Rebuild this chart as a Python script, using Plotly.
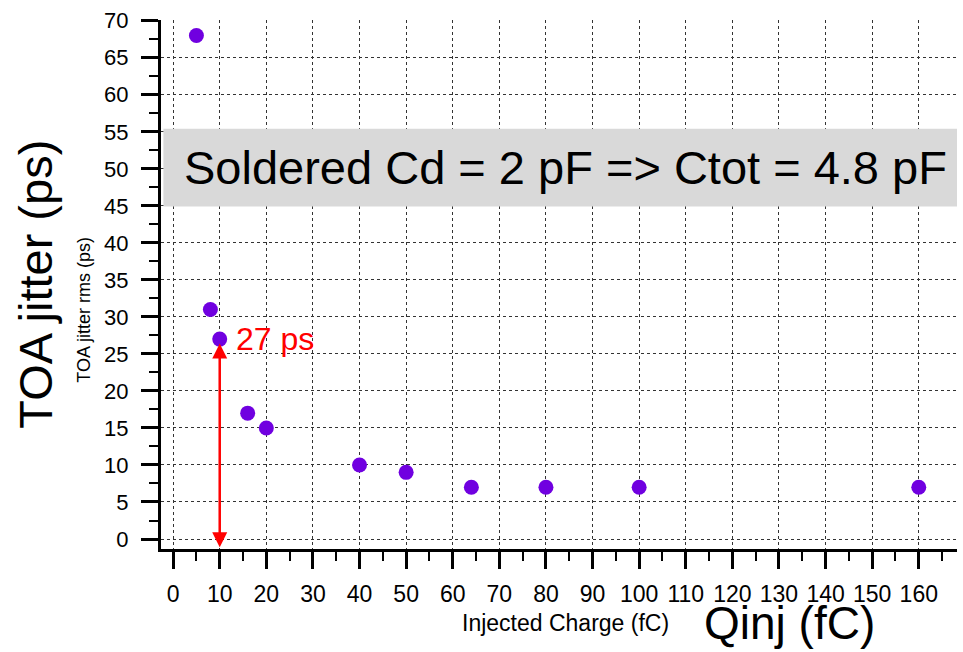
import plotly.graph_objects as go

charge_fc = [5, 8, 10, 16, 20, 40, 50, 64, 80, 100, 160]
jitter_ps = [68, 31, 27, 17, 15, 10, 9, 7, 7, 7, 7]
x_ticks = list(range(0, 161, 10))
y_ticks = list(range(0, 71, 5))
box_text = "Soldered Cd = 2 pF => Ctot = 4.8 pF"
arrow_label = "27 ps"
arrow_x = 10
arrow_top = 27

FONT = "Liberation Sans, Arial, sans-serif"

fig = go.Figure()
fig.add_trace(go.Scatter(
    x=charge_fc, y=jitter_ps, mode="markers",
    marker=dict(color="#7000e0", size=15, line=dict(width=0)),
    showlegend=False, cliponaxis=False,
))

axis_common = dict(
    showline=True, linecolor="black", linewidth=3,
    ticks="outside", ticklen=17, tickwidth=3, tickcolor="black",
    showgrid=True, gridcolor="#333333", griddash="dot", gridwidth=1,
    zeroline=False, mirror=False,
)

fig.update_xaxes(
    range=[-2.6, 168.2], tickvals=x_ticks,
    minor=dict(dtick=5, tick0=0, ticks="outside", ticklen=9, tickwidth=2, tickcolor="black", showgrid=False),
    ticklabelstandoff=5, tickfont=dict(family=FONT, size=23, color="black"),
    **axis_common,
)
fig.update_yaxes(
    range=[-1.35, 70.1], tickvals=y_ticks,
    minor=dict(dtick=2.5, tick0=0, ticks="outside", ticklen=9, tickwidth=2, tickcolor="black", showgrid=False),
    ticklabelstandoff=8, tickfont=dict(family=FONT, size=22, color="black"),
    **axis_common,
)

# Gray text box
fig.add_shape(type="rect", xref="paper", yref="y", x0=0.003, x1=1.0, y0=44.9, y1=55.4,
              fillcolor="#d9d9d9", line=dict(width=0), layer="above")
fig.add_annotation(xref="paper", yref="y", x=0.508, y=50.2, text=box_text, showarrow=False,
                   font=dict(family=FONT, size=47, color="black"))

# Double-headed red arrow
fig.add_annotation(x=arrow_x, y=arrow_top - 0.6, ax=arrow_x, ay=-1.3, xref="x", yref="y",
                   axref="x", ayref="y", showarrow=True, arrowhead=2, startarrowhead=2,
                   arrowside="end+start", arrowwidth=2.5, arrowcolor="red", arrowsize=1.2,
                   startarrowsize=1.2, text="")
fig.add_annotation(x=arrow_x + 3.0, y=arrow_top, xref="x", yref="y", text=arrow_label,
                   showarrow=False, xanchor="left", yanchor="middle",
                   font=dict(family=FONT, size=32, color="red"))

# Axis titles
fig.add_annotation(xref="paper", yref="paper", x=-0.097, y=0.452, text="TOA jitter rms (ps)",
                   textangle=-90, showarrow=False, xanchor="center", yanchor="middle",
                   font=dict(family=FONT, size=18, color="black"))
fig.add_annotation(xref="paper", yref="paper", x=-0.158, y=0.5, text="TOA jitter (ps)",
                   textangle=-90, showarrow=False, xanchor="center", yanchor="middle",
                   font=dict(family=FONT, size=47, color="black"))
fig.add_annotation(xref="paper", yref="paper", x=0.508, y=-0.14, text="Injected Charge (fC)",
                   showarrow=False, xanchor="center", yanchor="middle",
                   font=dict(family=FONT, size=23, color="black"))
fig.add_annotation(xref="paper", yref="paper", x=0.789, y=-0.193, text="Qinj (fC)",
                   showarrow=False, xanchor="center", yanchor="bottom",
                   font=dict(family=FONT, size=46, color="black"))

fig.update_layout(
    width=963, height=652,
    margin=dict(l=161, r=6, t=20, b=103),
    paper_bgcolor="white", plot_bgcolor="white",
    font=dict(family=FONT),
)

fig.write_html("out.html")
